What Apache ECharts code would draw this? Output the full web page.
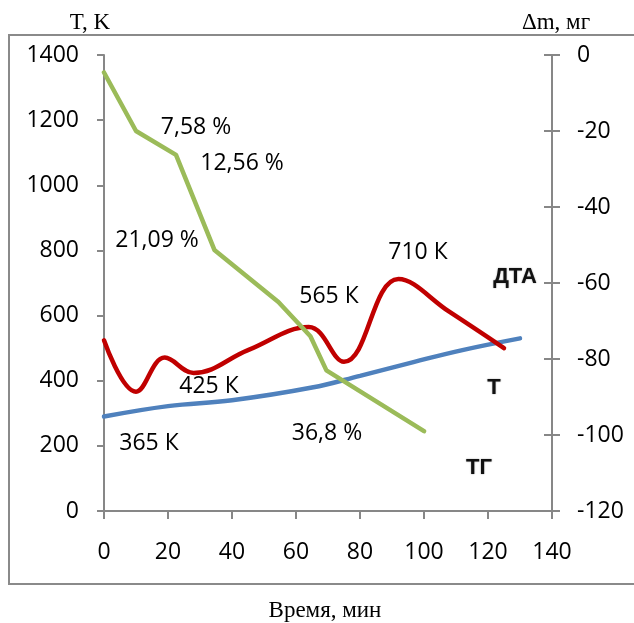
<!DOCTYPE html>
<html>
<head>
<meta charset="utf-8">
<script src="https://cdn.jsdelivr.net/npm/echarts@6/dist/echarts.min.js"></script>
<style>
  html, body { margin: 0; padding: 0; background: #fff; }
  #chart { width: 634px; height: 623px; }
</style>
</head>
<body>
<div id="chart"></div>
<script>
// ДТА / ТГ / Т — кривые по времени

// ось X (мин)
const xTicks = [0, 20, 40, 60, 80, 100, 120, 140];
// ДТА (левая ось, К)
const dtaTime = [0, 10, 19, 28, 45, 64, 75, 92, 108, 125];
const dtaVal = [524, 366, 471, 424, 494, 565, 458, 712, 611, 500];
// Т (левая ось, К)
const tTime = [0, 20, 40, 65, 80, 97, 112, 130];
const tVal = [290, 322, 340, 379, 415, 458, 494, 530];
// ТГ (правая ось, мг)
const tgTime = [0, 10, 22.5, 34.5, 54.5, 64.5, 69.5, 100];
const tgVal = [-4.6, -20, -26.3, -51.3, -65, -74, -83, -99];

const pair = (xs, ys) => xs.map((x, i) => [x, ys[i]]);

const chart = echarts.init(document.getElementById('chart'));

const axisGrey = '#878787';
const tickFont = { color: '#000', fontFamily: 'Open Sans', fontSize: 23, formatter: v => String(v) };

// подписи на поле графика (пиксели)
const notes = [
  { text: '7,58 %', x: 196, y: 127 },
  { text: '12,56 %', x: 242, y: 163 },
  { text: '21,09 %', x: 157, y: 240 },
  { text: '565 К', x: 329, y: 296 },
  { text: '710 К', x: 418, y: 252 },
  { text: '425 К', x: 209, y: 386 },
  { text: '365 К', x: 149, y: 443 },
  { text: '36,8 %', x: 327, y: 433 }
];
const bold = [
  { text: 'ДТА', x: 515, y: 277 },
  { text: 'Т', x: 494, y: 388 },
  { text: 'ТГ', x: 479, y: 468 }
];

option = {
  animation: false,
  backgroundColor: '#fff',
  grid: { left: 104, right: 82, top: 55, bottom: 112 },
  xAxis: {
    type: 'value',
    min: 0, max: 140, interval: 20,
    axisLine: { lineStyle: { color: axisGrey, width: 2 } },
    axisTick: { show: true, length: 8, lineStyle: { color: axisGrey, width: 2 } },
    axisLabel: Object.assign({ margin: 30 }, tickFont),
    splitLine: { show: false }
  },
  yAxis: [
    {
      type: 'value',
      min: 0, max: 1400, interval: 200,
      axisLine: { show: true, lineStyle: { color: axisGrey, width: 2 } },
      axisTick: { show: true, length: 7, lineStyle: { color: axisGrey, width: 2 } },
      axisLabel: Object.assign({ margin: 25 }, tickFont),
      splitLine: { show: false }
    },
    {
      type: 'value',
      position: 'right',
      min: -120, max: 0, interval: 20,
      axisLine: { show: true, onZero: false, lineStyle: { color: axisGrey, width: 2 } },
      axisTick: { show: true, length: 8, lineStyle: { color: axisGrey, width: 2 } },
      axisLabel: Object.assign({ margin: 25 }, tickFont),
      splitLine: { show: false }
    },
    { // внутренние засечки правой оси
      type: 'value',
      position: 'right',
      min: -120, max: 0, interval: 20,
      axisLine: { show: false },
      axisTick: { show: true, inside: true, length: 8, lineStyle: { color: axisGrey, width: 2 } },
      axisLabel: { show: false },
      splitLine: { show: false }
    }
  ],
  series: [
    {
      name: 'Т',
      type: 'line',
      yAxisIndex: 0,
      smooth: 0.4,
      symbol: 'none',
      data: pair(tTime, tVal),
      lineStyle: { color: '#4F81BD', width: 4.5, cap: 'round' }
    },
    {
      name: 'ДТА',
      type: 'line',
      yAxisIndex: 0,
      smooth: 0.4,
      symbol: 'none',
      data: pair(dtaTime, dtaVal),
      lineStyle: { color: '#C00000', width: 4.5, cap: 'round' }
    },
    {
      name: 'ТГ',
      type: 'line',
      yAxisIndex: 1,
      smooth: false,
      symbol: 'none',
      data: pair(tgTime, tgVal),
      lineStyle: { color: '#9BBB59', width: 4.5, cap: 'round', join: 'round' }
    }
  ],
  graphic: [
    { // рамка без правой стороны
      type: 'polyline', z: -1, silent: true,
      shape: { points: [[700, 35], [9, 35], [9, 584], [700, 584]] },
      style: { fill: null, stroke: '#8a8a8a', lineWidth: 2 }
    },
    {
      type: 'text', x: 90, y: 23,
      style: { text: 'T, K', fontFamily: 'Liberation Serif', fontSize: 23, fill: '#000', textAlign: 'center', textVerticalAlign: 'middle' }
    },
    {
      type: 'text', x: 556, y: 23,
      style: { text: 'Δm, мг', fontFamily: 'Liberation Serif', fontSize: 23, fill: '#000', textAlign: 'center', textVerticalAlign: 'middle' }
    },
    {
      type: 'text', x: 325, y: 611,
      style: { text: 'Время, мин', fontFamily: 'Liberation Serif', fontSize: 23, fill: '#000', textAlign: 'center', textVerticalAlign: 'middle' }
    }
  ].concat(notes.map(n => ({
    type: 'text', x: n.x, y: n.y, z: 10,
    style: { text: n.text, fontFamily: 'Open Sans', fontSize: 23, fill: '#000', textAlign: 'center', textVerticalAlign: 'middle' }
  }))).concat(bold.map(n => ({
    type: 'text', x: n.x, y: n.y, z: 10,
    style: { text: n.text, fontFamily: 'Liberation Sans', fontWeight: 'bold', fontSize: 22, fill: '#111',
      textAlign: 'center', textVerticalAlign: 'middle', textShadowColor: 'rgba(0,0,0,0.45)', textShadowBlur: 1.5 }
  })))
};

chart.setOption(option);
</script>
</body>
</html>
